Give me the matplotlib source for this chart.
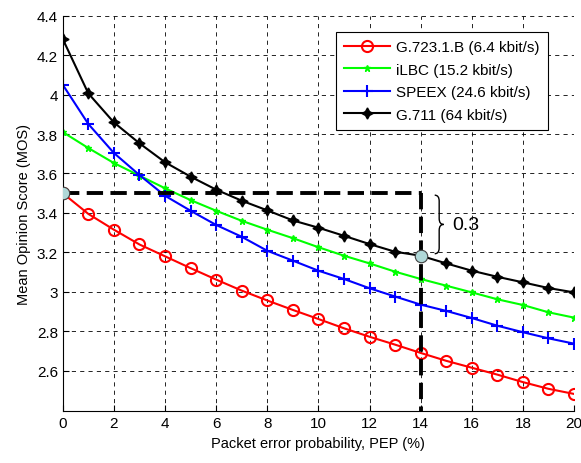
import matplotlib
matplotlib.use("Agg")
import matplotlib.pyplot as plt
import numpy as np
from matplotlib.path import Path
from matplotlib.patches import PathPatch

plt.rcParams['font.family'] = ['Liberation Sans', 'DejaVu Sans']

pep = list(range(0, 21))

g723 = [3.50, 3.395, 3.315, 3.24, 3.18, 3.12, 3.062, 3.006, 2.956, 2.908, 2.862,
        2.815, 2.772, 2.732, 2.69, 2.65, 2.615, 2.58, 2.542, 2.508, 2.482]
ilbc = [3.81, 3.729, 3.653, 3.589, 3.525, 3.465, 3.411, 3.36, 3.315, 3.272, 3.226,
        3.183, 3.144, 3.102, 3.065, 3.031, 2.997, 2.962, 2.933, 2.896, 2.869]
speex = [4.05, 3.851, 3.704, 3.592, 3.487, 3.411, 3.339, 3.279, 3.208, 3.158, 3.107,
         3.065, 3.018, 2.976, 2.935, 2.903, 2.867, 2.828, 2.795, 2.764, 2.737]
g711 = [4.282, 4.006, 3.859, 3.753, 3.657, 3.584, 3.518, 3.462, 3.413, 3.362, 3.325,
        3.284, 3.242, 3.203, 3.183, 3.144, 3.107, 3.076, 3.048, 3.019, 2.997]

labels = ["G.723.1.B (6.4 kbit/s)", "iLBC (15.2 kbit/s)",
          "SPEEX (24.6 kbit/s)", "G.711 (64 kbit/s)"]

MOS_THRESHOLD = 3.5
PEP_MARK = 14


def main():
    fig = plt.figure(figsize=(5.81, 4.64), dpi=100)
    ax = fig.add_axes([0.108, 0.111, 0.880, 0.853])

    ax.plot(pep, g723, color="red", marker="o", markersize=8, markerfacecolor="none",
            markeredgewidth=1.5, linewidth=1.5, label=labels[0])
    ax.plot(pep, ilbc, color="#00ff00", marker="*", markersize=5, linewidth=1.5, label=labels[1])
    ax.plot(pep, speex, color="blue", marker="+", markersize=9, markeredgewidth=1.5,
            linewidth=1.5, label=labels[2])
    ax.plot(pep, g711, color="black", marker=(4, 1, 0), markersize=8, markeredgewidth=1.0,
            linewidth=1.5, label=labels[3])

    # threshold annotation
    y_at_mark = g711[pep.index(PEP_MARK)]
    ax.plot([0, PEP_MARK], [MOS_THRESHOLD, MOS_THRESHOLD], color="black", linewidth=2.8,
            linestyle=(0, (4.2, 1.9)), zorder=3)
    ax.plot([PEP_MARK, PEP_MARK], [MOS_THRESHOLD, 2.393], color="black", linewidth=2.8,
            linestyle=(0, (4.2, 1.9)), zorder=3)
    ax.plot([0, PEP_MARK], [MOS_THRESHOLD, y_at_mark], linestyle="none", marker="o",
            markersize=9, markerfacecolor="#b0d8d8", markeredgecolor="#404040",
            markeredgewidth=0.8, zorder=5)

    # curly brace
    bx = 14.55
    w = 0.35
    top, bot = MOS_THRESHOLD - 0.01, y_at_mark + 0.01
    mid = (top + bot) / 2
    path = Path([(bx, top), (bx + w * 0.5, top), (bx + w * 0.5, top - 0.03),
                 (bx + w * 0.5, mid + 0.03), (bx + w * 0.5, mid), (bx + w, mid),
                 (bx + w * 0.5, mid), (bx + w * 0.5, mid - 0.03),
                 (bx + w * 0.5, bot + 0.03), (bx + w * 0.5, bot), (bx, bot)],
                [Path.MOVETO, Path.CURVE3, Path.CURVE3,
                 Path.LINETO, Path.CURVE3, Path.CURVE3,
                 Path.CURVE3, Path.CURVE3,
                 Path.LINETO, Path.CURVE3, Path.CURVE3])
    ax.add_patch(PathPatch(path, facecolor="none", edgecolor="black", linewidth=1.0))
    ax.text(15.25, mid, "0.3", fontsize=14, va="center", ha="left")

    ax.set_xlim(0, 20)
    ax.set_ylim(2.393, 4.4)
    ax.set_xticks(np.arange(0, 21, 2))
    ax.set_yticks([2.6, 2.8, 3.0, 3.2, 3.4, 3.6, 3.8, 4.0, 4.2, 4.4])
    ax.set_yticklabels(["2.6", "2.8", "3", "3.2", "3.4", "3.6", "3.8", "4", "4.2", "4.4"])
    ax.tick_params(direction="in", length=4, labelsize=11, width=0.8)
    ax.grid(True, color="black", linestyle=(0, (5, 5)), linewidth=0.6)
    ax.spines["top"].set_visible(False)
    ax.spines["right"].set_visible(False)
    ax.set_xlabel("Packet error probability, PEP (%)", fontsize=10.5)
    ax.set_ylabel("Mean Opinion Score (MOS)", fontsize=10.5)

    leg = ax.legend(loc="upper right", bbox_to_anchor=(0.949, 0.959), borderaxespad=0,
                    fontsize=11, fancybox=False, framealpha=1, edgecolor="black",
                    handlelength=3.0, handletextpad=0.4, borderpad=0.55, labelspacing=0.55)
    leg.get_frame().set_linewidth(0.8)

    fig.savefig("out.png", dpi=100)


if __name__ == '__main__':
    main()
